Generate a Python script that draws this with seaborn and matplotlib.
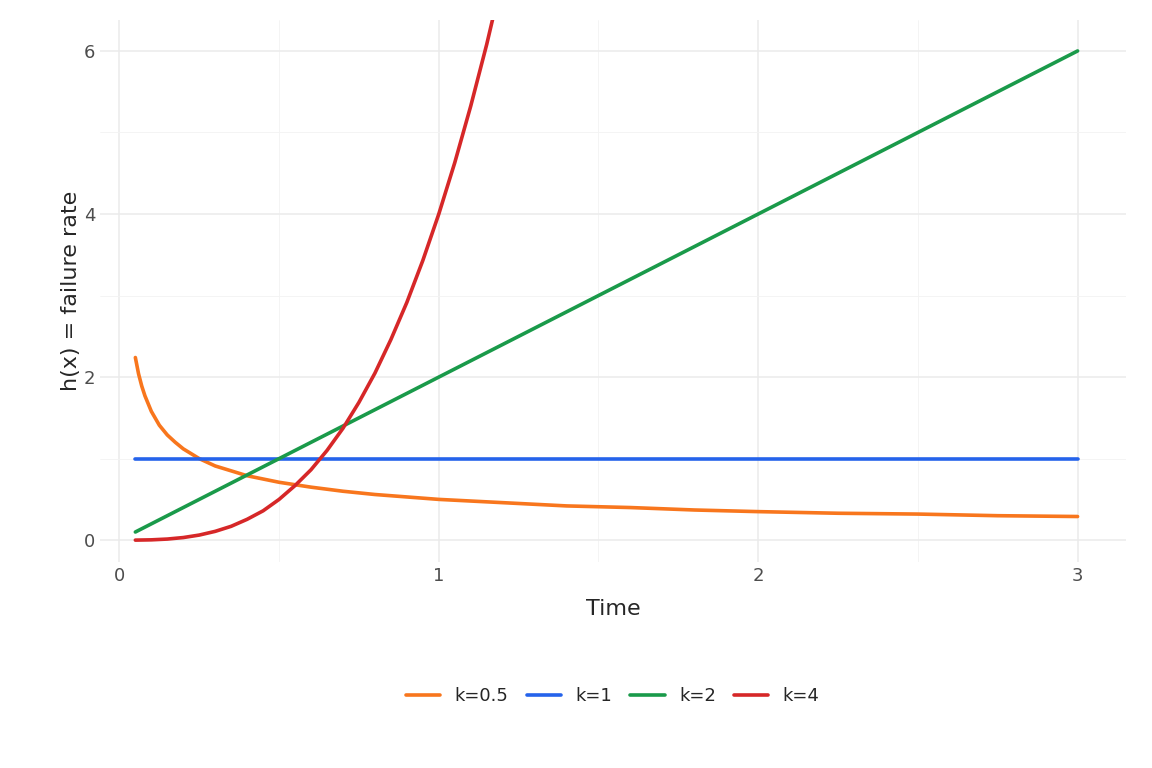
import numpy as np
import pandas as pd
import matplotlib
matplotlib.use("Agg")
import matplotlib.pyplot as plt
import seaborn as sns

# values (Weibull hazard curves)
time = [0.05, 0.06, 0.07, 0.08, 0.1, 0.125, 0.15, 0.175, 0.2, 0.25, 0.3, 0.35, 0.4,
        0.5, 0.6, 0.7, 0.8, 0.9, 1.0, 1.1, 1.2, 1.4, 1.6, 1.8, 2.0, 2.25, 2.5, 2.75, 3.0]
h_k05 = [2.24, 2.04, 1.89, 1.77, 1.58, 1.41, 1.29, 1.20, 1.12, 1.0, 0.91, 0.85, 0.79,
         0.71, 0.65, 0.60, 0.56, 0.53, 0.50, 0.48, 0.46, 0.42, 0.40, 0.37, 0.35, 0.33,
         0.32, 0.30, 0.29]
h_k1 = [1.0] * len(time)
h_k2 = [0.1, 0.12, 0.14, 0.16, 0.2, 0.25, 0.3, 0.35, 0.4, 0.5, 0.6, 0.7, 0.8,
        1.0, 1.2, 1.4, 1.6, 1.8, 2.0, 2.2, 2.4, 2.8, 3.2, 3.6, 4.0, 4.5, 5.0, 5.5, 6.0]
time_k4 = [0.05, 0.1, 0.15, 0.2, 0.25, 0.3, 0.35, 0.4, 0.45, 0.5, 0.55, 0.6, 0.65, 0.7,
           0.75, 0.8, 0.85, 0.9, 0.95, 1.0, 1.05, 1.1, 1.15, 1.2]
h_k4 = [0.0005, 0.004, 0.0135, 0.032, 0.0625, 0.108, 0.17, 0.256, 0.36, 0.5, 0.67,
        0.864, 1.10, 1.372, 1.69, 2.048, 2.46, 2.916, 3.43, 4.0, 4.63, 5.324, 6.08, 6.912]

labels = ["k=0.5", "k=1", "k=2", "k=4"]
colors = ["#f8761d", "#2563eb", "#1a9a4a", "#d62728"]

df = pd.concat([
    pd.DataFrame({"Time": time, "h": h_k05, "k": "k=0.5"}),
    pd.DataFrame({"Time": time, "h": h_k1, "k": "k=1"}),
    pd.DataFrame({"Time": time, "h": h_k2, "k": "k=2"}),
    pd.DataFrame({"Time": time_k4, "h": h_k4, "k": "k=4"}),
])

sns.set_theme(style="whitegrid")
fig = plt.figure(figsize=(11.52, 7.68), dpi=100)
ax = fig.add_axes([0.087, 0.268, 0.89, 0.706])
sns.lineplot(data=df, x="Time", y="h", hue="k", hue_order=labels,
             palette=colors, linewidth=2.6, ax=ax)

ax.set_xlim(-0.06, 3.15)
ax.set_ylim(-0.27, 6.38)
ax.set_xticks([0, 1, 2, 3])
ax.set_yticks([0, 2, 4, 6])
ax.set_xticks([0.5, 1.5, 2.5], minor=True)
ax.set_yticks([1, 3, 5], minor=True)
ax.grid(which="major", color="#ebebeb", linewidth=1.1)
ax.grid(which="minor", color="#f3f3f3", linewidth=0.6)
for s in ax.spines.values():
    s.set_visible(False)
ax.tick_params(axis="both", which="both", length=0, labelsize=13, labelcolor="#4d4d4d")
ax.set_xlabel("Time", fontsize=16, labelpad=10)
ax.set_ylabel("h(x) = failure rate", fontsize=16, labelpad=2)

ax.legend(title=None, loc="upper center", bbox_to_anchor=(0.5, -0.2), ncol=4,
          frameon=False, fontsize=13, handlelength=1.9, columnspacing=1.0)

fig.savefig("out.png", dpi=100)
